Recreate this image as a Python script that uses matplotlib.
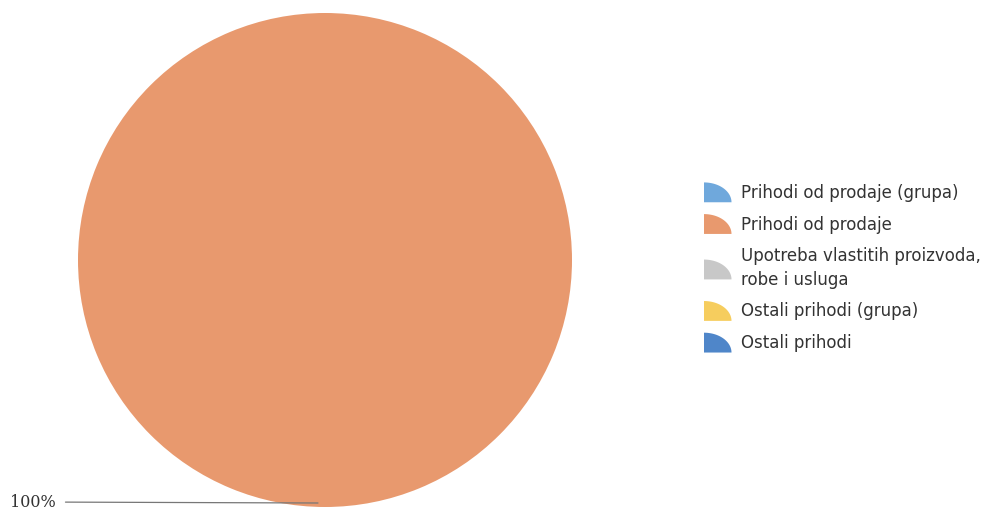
import numpy as np
import matplotlib.pyplot as plt
from matplotlib.patches import Wedge, Polygon
from matplotlib.legend_handler import HandlerPatch

categories = ["Prihodi od prodaje (grupa)", "Prihodi od prodaje",
              "Upotreba vlastitih proizvoda,\nrobe i usluga",
              "Ostali prihodi (grupa)", "Ostali prihodi"]
values = [0, 100, 0, 0, 0]
colors = ["#6FA8DC", "#E8996E", "#C8C8C8", "#F6CD5E", "#4F86C9"]
pct_label = "100%"


class QuarterHandler(HandlerPatch):
    # quarter-disc legend key, corner at bottom-left
    def create_artists(self, legend, orig_handle, xdescent, ydescent,
                       width, height, fontsize, trans):
        x0, y0 = -xdescent, -ydescent - 2
        w, h = width, height * 1.2
        t = np.linspace(0, np.pi / 2, 30)
        pts = [(x0, y0)] + [(x0 + w * np.cos(a), y0 + h * np.sin(a)) for a in t]
        p = Polygon(pts, closed=True, facecolor=orig_handle.get_facecolor(),
                    edgecolor="none", transform=trans)
        return [p]


fig = plt.figure(figsize=(9.94, 5.10), dpi=100)
ax = fig.add_axes([0, 0, 1, 1])

ax.pie(values, colors=colors, center=(325, 249), radius=247,
       startangle=90, counterclock=False, frame=True,
       wedgeprops=dict(linewidth=0))
ax.set_xlim(0, 994)
ax.set_ylim(0, 510)
ax.axis("off")

ax.annotate(pct_label, xy=(318, 6), xytext=(10, 7), fontsize=11.5,
            family="DejaVu Serif", color="#333333", va="center",
            arrowprops=dict(arrowstyle="-", color="#777777", lw=0.9,
                            shrinkA=5, shrinkB=0))

handles = [Wedge((0, 0), 1, 0, 90, facecolor=c) for c in colors]
leg = ax.legend(handles, categories, loc="center left",
                bbox_to_anchor=(689 / 994, 1 - 268 / 510),
                frameon=False, fontsize=12, handlelength=1.65,
                handleheight=1.15, handletextpad=0.55, labelspacing=0.82,
                handler_map={Wedge: QuarterHandler()})
for t in leg.get_texts():
    t.set_color("#333333")
    t.set_linespacing(1.4)

fig.savefig("out.png", dpi=100)
